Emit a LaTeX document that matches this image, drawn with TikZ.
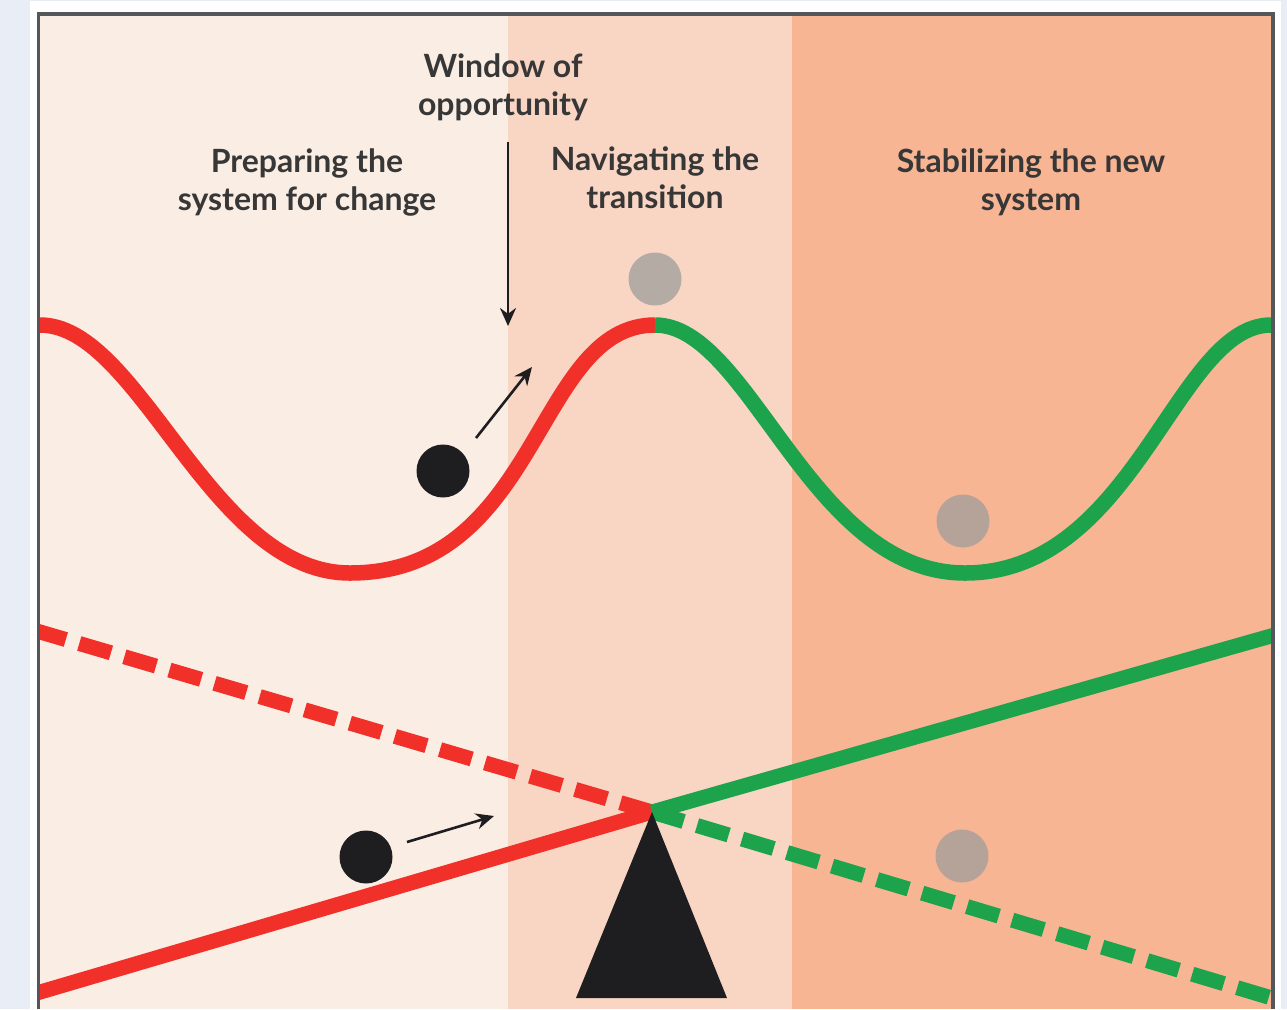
\documentclass[tikz,border=0pt]{standalone}
\usepackage{fontspec}
\setmainfont{Lato}
\usetikzlibrary{arrows.meta}
\definecolor{outerbg}{RGB}{232,237,246}
\definecolor{pone}{RGB}{250,237,228}
\definecolor{ptwo}{RGB}{249,213,196}
\definecolor{pthree}{RGB}{248,181,148}
\definecolor{framec}{RGB}{85,88,90}
\definecolor{myred}{RGB}{241,48,42}
\definecolor{mygreen}{RGB}{30,163,77}
\definecolor{ballgray}{RGB}{159,157,155}
\definecolor{ink}{RGB}{30,30,32}
\definecolor{txt}{RGB}{55,55,55}
\tikzset{
  lbl/.style={font=\fontsize{16}{19}\selectfont\bfseries, text=txt, align=center, inner sep=0pt},
  wave/.style={line width=7.75pt},
  solidbar/.style={line width=7.5pt},
  dashbar/.style={line width=7.5pt, dash pattern=on 16.5pt off 7pt},
  darkball/.style={circle, fill=ink, minimum size=26.5pt, inner sep=0pt},
  ghostball/.style={circle, fill=ballgray, fill opacity=0.75, minimum size=26.5pt, inner sep=0pt},
  pointer/.style={line width=1.3pt, draw=ink, -{Stealth[length=9pt,width=8pt]}},
}
\begin{document}
\begin{tikzpicture}[x=0.5pt,y=-0.5pt]
\useasboundingbox (0,0) rectangle (1287,1009);
\fill[outerbg] (0,0) rectangle (1287,1009);
\fill[white] (30,1) rectangle (1281,1009);
% panels
\fill[pone] (39,14) rectangle (508,1009);
\fill[ptwo] (508,14) rectangle (792,1009);
\fill[pthree] (792,14) rectangle (1273,1009);
\begin{scope}
\clip (39,14) rectangle (1273,1009);
% wave
\coordinate (pk0) at (40,325);
\coordinate (tr1) at (350,573);
\coordinate (pk1) at (655,325);
\coordinate (tr2) at (965,573);
\coordinate (pk2) at (1271,325);
\draw[wave, myred] (30,325) -- (pk0) .. controls (140,325) and (210,573) .. (tr1)
   .. controls (540,573) and (535,325) .. (pk1);
\draw[wave, mygreen] (pk1) .. controls (750,325) and (810,573) .. (tr2)
   .. controls (1135,573) and (1176,325) .. (pk2) -- (1290,325);
% seesaw
\coordinate (pivot) at (652,812);
\coordinate (redL) at (30,995);
\coordinate (redDL) at (30,629);
\coordinate (greenR) at (1285,632);
\coordinate (greenDR) at (1285,1002);
\draw[dashbar, myred] (pivot) -- (redDL);
\draw[dashbar, mygreen] (pivot) -- (greenDR);
\draw[solidbar, myred] (redL) -- (pivot);
\draw[solidbar, mygreen] (pivot) -- (greenR);
\end{scope}
\fill[ink] (pivot) -- (727,998) -- (576,998) -- cycle;
% frame
\draw[framec, line width=1.6pt] (38.5,1009) -- (38.5,14) -- (1273,14) -- (1273,1009);
% balls
\node[ghostball] (g1) at (655,279) {};
\node[ghostball] (g2) at (963,521) {};
\node[ghostball] (g3) at (962,856) {};
\node[darkball] (b1) at (443,471) {};
\node[darkball] (b2) at (366,857) {};
% small arrows
\coordinate (a1s) at (476,438);
\coordinate (a1e) at (532,367);
\coordinate (a2s) at (407,842);
\coordinate (a2e) at (494,816);
\draw[pointer] (a1s) -- (a1e);
\draw[pointer] (a2s) -- (a2e);
% labels
\node[lbl] (win) at (503,87) {Window of\\opportunity};
\node[lbl] (prep) at (307,182) {Preparing the\\system for change};
\node[lbl] (nav) at (655,178) {Navigating the\\transition};
\node[lbl] (stab) at (1031,182) {Stabilizing the new\\system};
\coordinate (wtop) at (508,142);
\coordinate (wbot) at (508,326);
\draw[pointer] (wtop) -- (wbot);
\end{tikzpicture}
\end{document}
